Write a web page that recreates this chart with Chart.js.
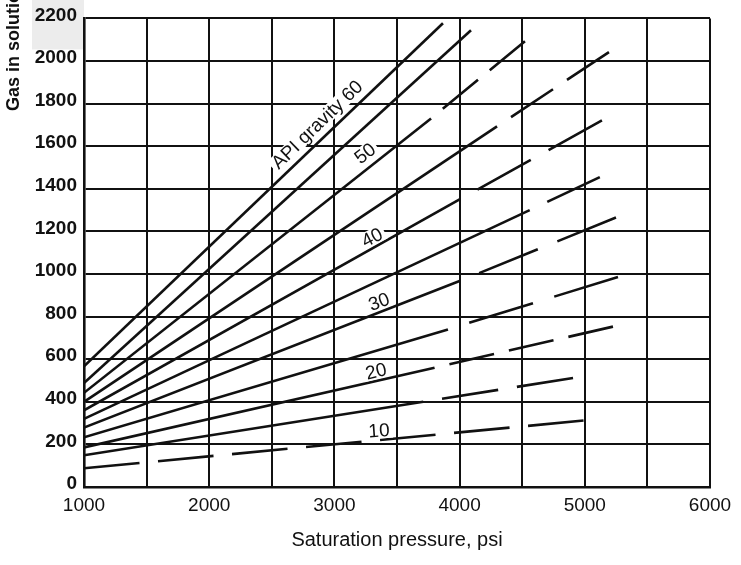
<!DOCTYPE html>
<html><head><meta charset="utf-8">
<script src="https://cdn.jsdelivr.net/npm/chart.js@4.4.1/dist/chart.umd.min.js"></script>
<style>html,body{margin:0;padding:0;background:#fff;}canvas{display:block;}</style>
</head><body>
<canvas id="c" width="741" height="565"></canvas>
<script>
// API gravity curves: gas in solution (cu ft/bbl) vs saturation pressure (psi)
const apiGravity  = [60, 55, 50, 45, 40, 35, 30, 25, 20, 15, 10];
const startPsi    = 1000;
const startGas    = [567, 488, 442, 400, 360, 320, 279, 233, 186, 149, 88];
// end of the solid (measured) part of each curve
const solidEndPsi = [3867, 4091, 3772, 4299, 4000, 4560, 4000, 3907, 3800, 3710, 1000];
const solidEndGas = [2177, 2144, 1730, 1693, 1350, 1300, 967, 740, 560, 400, 88];
// end of the dashed (extrapolated) part of each curve
const dashEndPsi  = [null, null, 4522, 5193, 5137, 5120, 5249, 5265, 5225, 4906, 4990];
const dashEndGas  = [null, null, 2093, 2042, 1721, 1455, 1265, 986, 753, 512, 312];

const xTickLabels = [1000, 2000, 3000, 4000, 5000, 6000];
const yTickLabels = [0, 200, 400, 600, 800, 1000, 1200, 1400, 1600, 1800, 2000, 2200];

const curveLabels   = ['API gravity 60', '50', '40', '30', '20', '10'];
const curveLabelPsi = [2861, 3244, 3300, 3356, 3332, 3356];
const curveLabelGas = [1702, 1567, 1172, 870, 544, 265];

const FONT = "'Liberation Sans', Arial, sans-serif";
const INK = '#111';
const DASH = [54, 18];
const labelAngles = [-44, -38, -27, -20, -14, -4];

// stretch the dash pattern slightly so that each dashed run ends on a full dash
function fitDash(ctx, startWithGap) {
  const L = Math.hypot(ctx.p1.x - ctx.p0.x, ctx.p1.y - ctx.p0.y);
  const d = DASH[0], g = DASH[1];
  let s;
  if (startWithGap) {
    const n = Math.max(1, Math.round(L / (d + g)));
    s = L / (n * (d + g));
  } else {
    const n = Math.max(1, Math.round((L + g) / (d + g)));
    s = L / (n * d + (n - 1) * g);
  }
  return {dash: [d * s, g * s], offset: startWithGap ? d * s : 0};
}

const datasets = apiGravity.map((g, i) => {
  const allDashed = solidEndPsi[i] === startPsi;
  const pts = [{x: startPsi, y: startGas[i]}];
  if (!allDashed) pts.push({x: solidEndPsi[i], y: solidEndGas[i]});
  if (dashEndPsi[i] !== null) pts.push({x: dashEndPsi[i], y: dashEndGas[i]});
  const isDashed = ctx => allDashed || ctx.p0DataIndex >= 1;
  return {
    label: 'API ' + g,
    data: pts,
    borderColor: INK,
    borderWidth: 2.6,
    pointRadius: 0,
    fill: false,
    tension: 0,
    borderCapStyle: 'butt',
    segment: {
      borderDash: ctx => isDashed(ctx) ? fitDash(ctx, !allDashed).dash : undefined,
      borderDashOffset: ctx => isDashed(ctx) ? fitDash(ctx, !allDashed).offset : undefined
    }
  };
});

const textPlugin = {
  id: 'texts',
  beforeDraw(chart) {
    // faint grey scan patch behind the top y label
    const {ctx, chartArea} = chart;
    ctx.save();
    ctx.fillStyle = '#ececec';
    ctx.fillRect(32, 0, chartArea.left - 32, chartArea.top + 31);
    ctx.restore();
  },
  afterDatasetsDraw(chart) {
    const {ctx, scales: {x, y}} = chart;
    curveLabels.forEach((t, i) => {
      const px = x.getPixelForValue(curveLabelPsi[i]);
      const py = y.getPixelForValue(curveLabelGas[i]);
      ctx.save();
      ctx.translate(px, py);
      ctx.rotate(labelAngles[i] * Math.PI / 180);
      ctx.font = '19px ' + FONT;
      const w = ctx.measureText(t).width;
      ctx.fillStyle = '#fff';
      ctx.fillRect(-w / 2 - 3, -8, w + 6, 16);
      ctx.fillStyle = INK;
      ctx.textAlign = 'center';
      ctx.textBaseline = 'middle';
      ctx.fillText(t, 0, 1);
      ctx.restore();
    });
  },
  afterDraw(chart) {
    const {ctx, chartArea} = chart;
    ctx.save();
    ctx.fillStyle = INK;
    ctx.font = '20px ' + FONT;
    ctx.textAlign = 'center';
    ctx.textBaseline = 'middle';
    ctx.fillText('Saturation pressure, psi', (chartArea.left + chartArea.right) / 2, chartArea.bottom + 53);
    ctx.translate(14, 111);
    ctx.rotate(-Math.PI / 2);
    ctx.font = 'bold 18px ' + FONT;
    ctx.textAlign = 'left';
    ctx.fillText('Gas in solution, cu ft/bbl', 0, 0);
    ctx.restore();
  }
};

new Chart(document.getElementById('c'), {
  type: 'line',
  data: { datasets },
  options: {
    responsive: false,
    animation: false,
    devicePixelRatio: 1,
    layout: { padding: { top: 14, right: 31, left: 0, bottom: 0 } },
    plugins: { legend: { display: false }, tooltip: { enabled: false } },
    scales: {
      x: {
        type: 'linear', min: 1000, max: 6000,
        afterFit: s => { s.height = 78; },
        ticks: {
          stepSize: 500, autoSkip: false, maxRotation: 0, padding: 7,
          color: INK, font: { size: 19, family: FONT },
          callback: v => xTickLabels.includes(v) ? String(v) : ''
        },
        grid: { color: INK, lineWidth: 2, drawTicks: false },
        border: { color: INK, width: 2.6 }
      },
      y: {
        type: 'linear', min: 0, max: 2200,
        afterFit: s => { s.width = 84; },
        ticks: {
          stepSize: 200, padding: 7, labelOffset: -3,
          color: INK, font: { size: 19, weight: 'bold', family: FONT },
          callback: v => yTickLabels.includes(v) ? String(v) : ''
        },
        grid: { color: INK, lineWidth: 2, drawTicks: false },
        border: { color: INK, width: 2.6 }
      }
    }
  },
  plugins: [textPlugin]
});
</script>
</body></html>
